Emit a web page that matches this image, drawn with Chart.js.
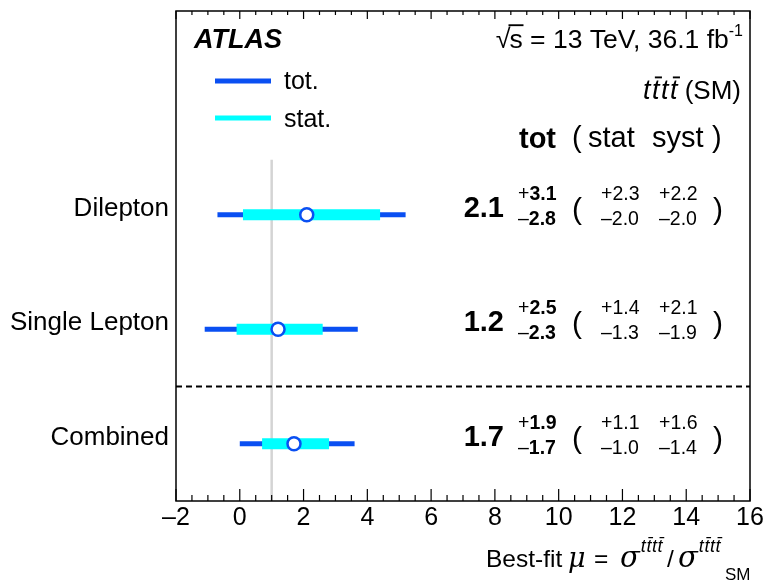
<!DOCTYPE html>
<html><head><meta charset="utf-8">
<script src="https://cdn.jsdelivr.net/npm/chart.js@4"></script>
<style>html,body{margin:0;padding:0;background:#fff;overflow:hidden}#wrap{width:763px;height:581px}</style>
</head><body><div id="wrap"><canvas id="c" width="763" height="581"></canvas></div>
<script>
// ---- data ----
const categories = ['Dilepton', 'Single Lepton', 'Combined'];
const rowPos = [2.5, 1.5, 0.5];
const mu = [2.1, 1.2, 1.7];
const totUp = [3.1, 2.5, 1.9];
const totDn = [2.8, 2.3, 1.7];
const statUp = [2.3, 1.4, 1.1];
const statDn = [2.0, 1.3, 1.0];
const systUp = [2.2, 2.1, 1.6];
const systDn = [2.0, 1.9, 1.4];
const xTicks = [-2, 0, 2, 4, 6, 8, 10, 12, 14, 16];
const smRef = 1;
const smTop = 2.98;
const separatorY = 1.0;

const BLUE = '#0a4ff2';
const CYAN = '#00ffff';
const SANS = '"Liberation Sans", Arial, Helvetica, sans-serif';
const MATH = '"DejaVu Serif", "Liberation Serif", serif';

const fmt = v => (v < 0 ? '\u2013' + Math.abs(v) : '' + v);
const fmt1 = v => v.toFixed(1);

// ---- rich text helpers ----
function segW(ctx, segs) { let w = 0; for (const s of segs) { ctx.font = s.font; w += ctx.measureText(s.t).width + (s.dx || 0); } return w; }
function drawRich(ctx, segs, x, y, align) {
  const w = segW(ctx, segs);
  let cx = align === 'right' ? x - w : (align === 'center' ? x - w / 2 : x);
  ctx.textAlign = 'left'; ctx.textBaseline = 'alphabetic';
  for (const s of segs) {
    ctx.font = s.font;
    const tw = ctx.measureText(s.t).width;
    const yy = y + (s.dy || 0);
    ctx.fillText(s.t, cx, yy);
    if (s.bar) {
      ctx.save();
      ctx.lineWidth = Math.max(1, s.size * 0.07);
      ctx.strokeStyle = ctx.fillStyle;
      const by = yy - s.size * (s.barH || 0.8);
      ctx.beginPath();
      ctx.moveTo(cx + (s.bx0 !== undefined ? s.bx0 : tw * 0.1 + s.size * 0.08), by);
      ctx.lineTo(cx + (s.bx1 !== undefined ? s.bx1 : tw * 0.9 + s.size * 0.12), by);
      ctx.stroke();
      ctx.restore();
    }
    cx += tw + (s.dx || 0);
  }
  return w;
}
function tttt(size, dy, gap) {
  const f = 'italic ' + size + 'px ' + SANS;
  const g = gap || 0;
  return [
    { t: 't', font: f, dy: dy, size: size, dx: g },
    { t: 't', font: f, dy: dy, size: size, bar: true, dx: g },
    { t: 't', font: f, dy: dy, size: size, dx: g },
    { t: 't', font: f, dy: dy, size: size, bar: true }
  ];
}

const framePlugin = {
  id: 'frame',
  afterDraw(chart) {
    const ctx = chart.ctx;
    const a = chart.chartArea;
    const xs = chart.scales.x;
    const ys = chart.scales.y;
    ctx.save();
    ctx.strokeStyle = '#000';
    ctx.fillStyle = '#000';
    // frame
    ctx.lineWidth = 1.5;
    ctx.strokeRect(a.left, a.top, a.right - a.left, a.bottom - a.top);
    // inward ticks bottom and top
    ctx.lineWidth = 1.2;
    for (let v = xs.min; v <= xs.max + 1e-9; v += 0.5) {
      const px = xs.getPixelForValue(v);
      const major = Math.abs(v / 2 - Math.round(v / 2)) < 1e-6;
      ctx.beginPath();
      ctx.moveTo(px, a.bottom); ctx.lineTo(px, a.bottom - (major ? 12 : 6));
      ctx.moveTo(px, a.top); ctx.lineTo(px, a.top + (major ? 8 : 4));
      ctx.stroke();
    }
    // ATLAS label
    ctx.font = 'italic bold 27px ' + SANS;
    ctx.textAlign = 'left'; ctx.textBaseline = 'alphabetic';
    ctx.fillText('ATLAS', 194, 48);
    // sqrt(s) text
    drawRich(ctx, [
      { t: '\u221A', font: '27px ' + SANS, size: 27, dx: -1 },
      { t: 's', font: '26.5px ' + SANS, size: 26.5, bar: true, barH: 0.86, bx0: -1, bx1: 14 },
      { t: ' = 13 TeV, 36.1 fb', font: '26.5px ' + SANS, size: 26.5 },
      { t: '-1', font: '16px ' + SANS, size: 16, dy: -12 }
    ], 743, 48, 'right');
    // tttt (SM)
    drawRich(ctx, tttt(27, 0, 1.5).concat([{ t: ' (SM)', font: '26px ' + SANS, size: 26 }]), 741, 99, 'right');
    // legend
    ctx.lineWidth = 5; ctx.strokeStyle = BLUE; ctx.lineCap = 'butt';
    ctx.beginPath(); ctx.moveTo(215, 81); ctx.lineTo(271, 81); ctx.stroke();
    ctx.strokeStyle = CYAN;
    ctx.beginPath(); ctx.moveTo(215, 118); ctx.lineTo(271, 118); ctx.stroke();
    ctx.font = '25px ' + SANS; ctx.fillStyle = '#000';
    ctx.fillText('tot.', 284, 89);
    ctx.fillText('stat.', 284, 127);
    // header
    ctx.font = 'bold 29px ' + SANS;
    ctx.fillText('tot', 519, 148);
    ctx.font = '29px ' + SANS;
    ctx.fillText('(', 572, 147);
    ctx.fillText('stat', 588, 147);
    ctx.fillText('syst', 652, 147);
    ctx.fillText(')', 712, 147);
    // rows
    for (let i = 0; i < categories.length; i++) {
      const py = ys.getPixelForValue(rowPos[i]);
      ctx.font = 'bold 29px ' + SANS;
      ctx.textAlign = 'right';
      ctx.fillText(fmt1(mu[i]), 504, py + 2);
      ctx.textAlign = 'left';
      drawRich(ctx, [{ t: '+', font: '19.5px ' + SANS, size: 19.5 }, { t: fmt1(totUp[i]), font: 'bold 19.5px ' + SANS, size: 19.5 }], 518, py - 15, 'left');
      drawRich(ctx, [{ t: '\u2013', font: '19.5px ' + SANS, size: 19.5 }, { t: fmt1(totDn[i]), font: 'bold 19.5px ' + SANS, size: 19.5 }], 518, py + 10, 'left');
      ctx.font = '30px ' + SANS;
      ctx.fillText('(', 572, py + 4);
      ctx.fillText(')', 713, py + 4);
      ctx.font = '19.5px ' + SANS;
      ctx.fillText('+' + fmt1(statUp[i]), 601, py - 15);
      ctx.fillText('\u2013' + fmt1(statDn[i]), 601, py + 10);
      ctx.fillText('+' + fmt1(systUp[i]), 659, py - 15);
      ctx.fillText('\u2013' + fmt1(systDn[i]), 659, py + 10);
    }
    // x title
    const base = 567;
    ctx.textAlign = 'left';
    ctx.font = '24.5px ' + SANS;
    ctx.fillText('Best-fit', 486, base);
    ctx.font = 'italic 27px ' + MATH;
    ctx.fillText('\u03BC', 568, base);
    ctx.font = '24.5px ' + SANS;
    ctx.fillText('=', 594, base);
    ctx.font = 'italic 29px ' + MATH;
    ctx.fillText('\u03C3', 620, base);
    let sw = ctx.measureText('\u03C3').width;
    drawRich(ctx, tttt(18, 0, 0.6), 620 + sw + 1, base - 15, 'left');
    ctx.font = '24.5px ' + SANS;
    ctx.fillText('/', 667, base);
    ctx.font = 'italic 29px ' + MATH;
    ctx.fillText('\u03C3', 678, base);
    drawRich(ctx, tttt(18, 0, 0.6), 678 + sw + 1, base - 15, 'left');
    ctx.font = '17px ' + SANS;
    ctx.fillText('SM', 725, base + 13);
    ctx.restore();
  }
};

const datasets = [];
for (let i = 0; i < categories.length; i++) {
  datasets.push({
    type: 'line', label: 'tot ' + categories[i],
    data: [{ x: mu[i] - totDn[i], y: rowPos[i] }, { x: mu[i] + totUp[i], y: rowPos[i] }],
    borderColor: BLUE, borderWidth: 5, borderCapStyle: 'butt', pointRadius: 0, order: 3
  });
  datasets.push({
    type: 'line', label: 'stat ' + categories[i],
    data: [{ x: mu[i] - statDn[i], y: rowPos[i] }, { x: mu[i] + statUp[i], y: rowPos[i] }],
    borderColor: CYAN, borderWidth: 11, borderCapStyle: 'butt', pointRadius: 0, order: 2
  });
}
datasets.push({
  type: 'scatter', label: 'mu',
  data: mu.map((m, i) => ({ x: m, y: rowPos[i] })),
  pointRadius: 6.5, pointBorderWidth: 2.5, pointBackgroundColor: '#fff', pointBorderColor: BLUE, order: 1
});
datasets.push({
  type: 'line', label: 'SM',
  data: [{ x: smRef, y: 0 }, { x: smRef, y: smTop }],
  borderColor: '#d4d4d4', borderWidth: 2.5, pointRadius: 0, order: 5
});
datasets.push({
  type: 'line', label: 'sep',
  data: [{ x: -2, y: separatorY }, { x: 16, y: separatorY }],
  borderColor: '#000', borderWidth: 2, borderDash: [6, 4], pointRadius: 0, order: 4
});

new Chart(document.getElementById('c'), {
  type: 'scatter',
  data: { datasets },
  options: {
    responsive: false, animation: false, devicePixelRatio: 1,
    layout: { padding: { left: 0, right: 13, top: 11, bottom: 0 } },
    plugins: { legend: { display: false }, tooltip: { enabled: false } },
    scales: {
      x: {
        type: 'linear', min: -2, max: 16, position: 'bottom',
        grid: { display: false, drawTicks: false }, border: { display: false },
        afterBuildTicks: s => { s.ticks = xTicks.map(v => ({ value: v })); },
        afterFit: s => { s.height = 80; s.paddingLeft = 0; s.paddingRight = 0; },
        ticks: { callback: v => fmt(v), font: { family: SANS, size: 25 }, color: '#000', padding: 2, maxRotation: 0, autoSkip: false }
      },
      y: {
        type: 'linear', min: 0, max: 4.28,
        grid: { display: false, drawTicks: false }, border: { display: false },
        afterBuildTicks: s => { s.ticks = rowPos.map(v => ({ value: v })); },
        afterFit: s => { s.width = 176; s.paddingTop = 0; s.paddingBottom = 0; },
        ticks: {
          callback: v => { const k = rowPos.indexOf(v); return k >= 0 ? categories[k] : ''; },
          font: { family: SANS, size: 26 }, color: '#000', padding: 7, labelOffset: -6, autoSkip: false
        }
      }
    }
  },
  plugins: [framePlugin]
});
</script>
</body></html>
